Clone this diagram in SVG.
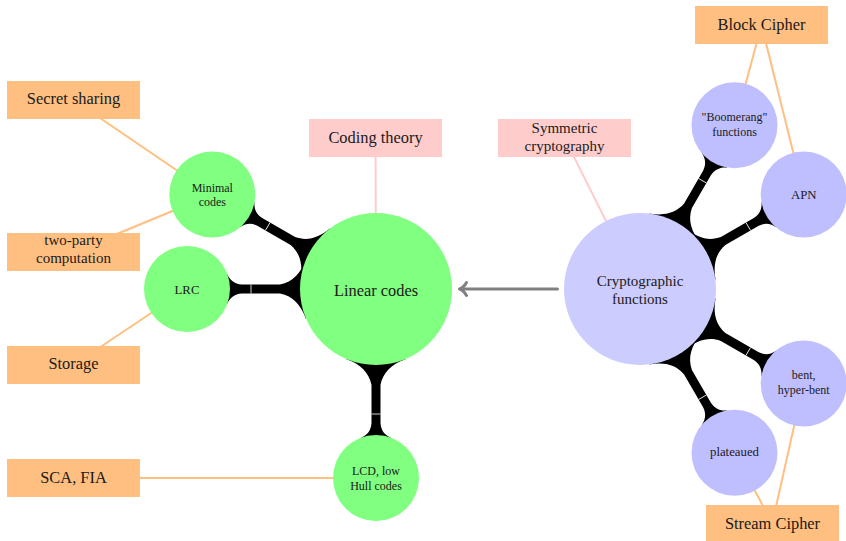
<svg xmlns="http://www.w3.org/2000/svg" xmlns:xlink="http://www.w3.org/1999/xlink" width="846" height="541" viewBox="0 0 846 541">
<style>
text{font-family:"Liberation Serif","DejaVu Serif",serif;fill:#1a1a1a;text-anchor:middle}
.big{font-size:16.4px}
.two{font-size:15px}
.sm{font-size:12.8px}
.sm2{font-size:12px}
.box{fill:#FFBF80}
.pbox{fill:#FFCCCC}
.g{fill:#80FF80}
.bc{fill:#CCCCFF}
.b{fill:#BFBFFF}
.ol{stroke:#FFBF80;stroke-width:2;fill:none}
.pl{stroke:#FFCCCC;stroke-width:2;fill:none}
</style>
<defs>
<g id="barT">
<path d="M70,-30 C75,-16 83,-7 96,-4.5 L134,-4.5 C142,-5 146,-9 149,-15 L149,15 C146,9 142,5 134,4.5 L96,4.5 C83,7 75,16 70,30 Z" fill="#000"/>
<line x1="125" y1="-4.5" x2="125" y2="4.5" stroke="#fff" stroke-width="0.8"/>
</g>
</defs>
<g id="connectors">
<line class="ol" x1="73.5" y1="100" x2="212.3" y2="194.5"/>
<line class="ol" x1="73.5" y1="252" x2="212.3" y2="194.5"/>
<line class="ol" x1="73.5" y1="365" x2="187" y2="289"/>
<line class="ol" x1="73.5" y1="478" x2="376" y2="478"/>
<line class="ol" x1="761.5" y1="25" x2="734.5" y2="125.3"/>
<line class="ol" x1="761.5" y1="25" x2="803.7" y2="194.5"/>
<line class="ol" x1="772.3" y1="523" x2="734.5" y2="452.7"/>
<line class="ol" x1="772.3" y1="523" x2="803.7" y2="383.5"/>
<line class="pl" x1="375.5" y1="138" x2="376" y2="289"/>
<line class="pl" x1="564.5" y1="138" x2="640" y2="289"/>
<use xlink:href="#barT" transform="translate(376,289) rotate(210)"/>
<use xlink:href="#barT" transform="translate(376,289) rotate(180)"/>
<use xlink:href="#barT" transform="translate(376,289) rotate(90)"/>
<use xlink:href="#barT" transform="translate(640,289) rotate(-60)"/>
<use xlink:href="#barT" transform="translate(640,289) rotate(-30)"/>
<use xlink:href="#barT" transform="translate(640,289) rotate(30)"/>
<use xlink:href="#barT" transform="translate(640,289) rotate(60)"/>
<g stroke="#808080" stroke-width="3" fill="none" stroke-linecap="round" stroke-linejoin="round">
<line x1="461" y1="289" x2="557.5" y2="289"/>
<path d="M466.5,282.5 Q463.5,287.8 459.5,289 Q463.5,290.2 466.5,295.5"/>
</g>
</g>
<g id="linear"><circle class="g" cx="376" cy="289" r="76"/><text class="big" x="376" y="295.5">Linear codes</text></g>
<g id="minimal"><circle class="g" cx="212.3" cy="194.5" r="43"/><text class="sm2" x="212.3" y="192">Minimal</text><text class="sm2" x="212.3" y="206">codes</text></g>
<g id="lrc"><circle class="g" cx="187" cy="289" r="43"/><text class="sm" x="187" y="293.5">LRC</text></g>
<g id="lcd"><circle class="g" cx="376" cy="478" r="43"/><text class="sm2" x="376" y="475">LCD, low</text><text class="sm2" x="376" y="489.5">Hull codes</text></g>
<g id="crypto"><circle class="bc" cx="640" cy="289" r="76"/><text class="two" x="640" y="286">Cryptographic</text><text class="two" x="640" y="303.5">functions</text></g>
<g id="boomerang"><circle class="b" cx="734.5" cy="125.3" r="43"/><text class="sm2" x="734.5" y="121">"Boomerang"</text><text class="sm2" x="734.5" y="136">functions</text></g>
<g id="apn"><circle class="b" cx="803.7" cy="194.5" r="43"/><text class="sm" x="803.7" y="199">APN</text></g>
<g id="bent"><circle class="b" cx="803.7" cy="383.5" r="43"/><text class="sm2" x="803.7" y="379">bent,</text><text class="sm2" x="803.7" y="394">hyper-bent</text></g>
<g id="plateaued"><circle class="b" cx="734.5" cy="452.7" r="43"/><text class="sm" x="734.5" y="456">plateaued</text></g>
<g id="secret"><rect class="box" x="7" y="81" width="133" height="38"/><text class="big" x="73.5" y="104">Secret sharing</text></g>
<g id="twoparty"><rect class="box" x="7" y="233" width="133" height="38"/><text class="two" x="73.5" y="245">two-party</text><text class="two" x="73.5" y="262.5">computation</text></g>
<g id="storage"><rect class="box" x="7" y="346" width="133" height="38"/><text class="big" x="73.5" y="369">Storage</text></g>
<g id="scafia"><rect class="box" x="7" y="459" width="133" height="38"/><text class="big" x="73.5" y="482.5">SCA, FIA</text></g>
<g id="coding"><rect class="pbox" x="309" y="119" width="133" height="38"/><text class="big" x="375.5" y="143">Coding theory</text></g>
<g id="symmetric"><rect class="pbox" x="498" y="119" width="133" height="38"/><text class="two" x="564.5" y="133">Symmetric</text><text class="two" x="564.5" y="150.5">cryptography</text></g>
<g id="block"><rect class="box" x="695" y="6" width="133" height="38"/><text class="big" x="761.5" y="30">Block Cipher</text></g>
<g id="stream"><rect class="box" x="706" y="505" width="133" height="36"/><text class="big" x="772.5" y="528.5">Stream Cipher</text></g>
</svg>
